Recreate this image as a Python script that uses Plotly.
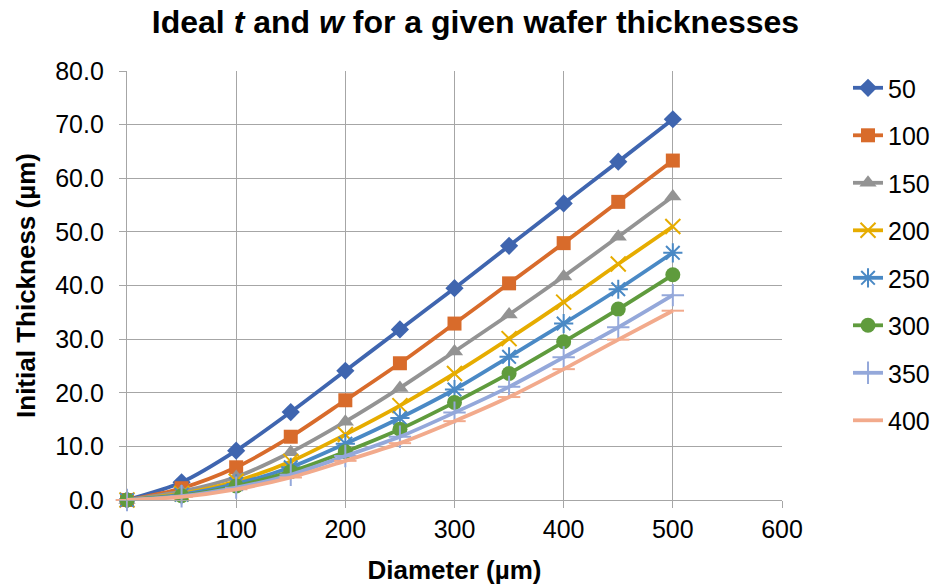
import plotly.graph_objects as go

# Diameter (µm) on the x axis
diameter = [0, 50, 100, 150, 200, 250, 300, 350, 400, 450, 500]

# Wafer thickness series (µm) and the initial thickness values for each
wafer = ["50", "100", "150", "200", "250", "300", "350", "400"]
t50 = [0.0, 3.3, 9.2, 16.4, 24.1, 31.8, 39.5, 47.4, 55.3, 63.1, 71.0]
t100 = [0.0, 2.2, 6.1, 11.8, 18.6, 25.5, 32.9, 40.4, 47.9, 55.6, 63.3]
t150 = [0.0, 1.6, 4.3, 8.9, 14.6, 20.9, 27.7, 34.6, 41.7, 49.1, 56.6]
t200 = [0.0, 1.2, 3.5, 7.2, 12.2, 17.6, 23.6, 30.1, 36.9, 44.0, 51.0]
t250 = [0.0, 1.0, 3.0, 6.1, 10.5, 15.3, 20.6, 26.7, 32.9, 39.3, 46.1]
t300 = [0.0, 0.8, 2.6, 5.3, 9.0, 13.2, 18.2, 23.6, 29.5, 35.6, 42.0]
t350 = [0.0, 0.7, 2.3, 4.7, 8.2, 11.8, 16.3, 21.1, 26.6, 32.2, 38.2]
t400 = [0.0, 0.6, 2.0, 4.2, 7.3, 10.6, 14.7, 19.2, 24.4, 29.9, 35.3]
values = [t50, t100, t150, t200, t250, t300, t350, t400]

x_ticks = [0, 100, 200, 300, 400, 500, 600]
y_ticks = [0, 10, 20, 30, 40, 50, 60, 70, 80]

colors = ["#3F65AF", "#D86B2B", "#939393", "#E6AC00",
          "#4A89C5", "#5F9B3D", "#94A8DA", "#F2AA8C"]
symbols = ["diamond", "square", "triangle-up", "x-thin",
           "asterisk", "circle", "cross-thin", "line-ew"]
sizes = [14, 14, 15, 15, 16, 15, 16, 16]
line_only = {"x-thin", "asterisk", "cross-thin", "line-ew"}

FONT = "Liberation Sans, Arial, sans-serif"

fig = go.Figure()
for name, ys, col, sym, sz in zip(wafer, values, colors, symbols, sizes):
    thin = sym in line_only
    fig.add_trace(go.Scatter(
        x=diameter, y=ys, name=name, mode="lines+markers",
        legendgroup=name, cliponaxis=False,
        line=dict(color=col, width=3.8, shape="spline", smoothing=0.8),
        marker=dict(symbol=sym, size=sz, color=col,
                    line=dict(color=col, width=2) if thin else dict(width=0)),
    ))

fig.update_layout(
    width=936, height=586,
    margin=dict(l=127, r=154, t=71, b=86, autoexpand=False),
    paper_bgcolor="white", plot_bgcolor="white",
    font=dict(family=FONT, color="black"),
    title=dict(
        text="<b>Ideal <i>t</i> and <i>w</i> for a given wafer thicknesses</b>",
        x=0.508, xanchor="center", y=0.963, yanchor="middle",
        font=dict(size=32, family=FONT, color="black"),
    ),
    legend=dict(
        xref="container", yref="container",
        x=0.906, xanchor="left", y=0.889, yanchor="top",
        font=dict(size=25, family=FONT, color="black"),
        tracegroupgap=12, bgcolor="rgba(0,0,0,0)",
        maxheight=560,
    ),
    showlegend=True,
)

fig.update_xaxes(
    range=[0, 600], tickvals=x_ticks, ticktext=[str(v) for v in x_ticks],
    automargin=False,
    showgrid=True, gridcolor="#A6A6A6", gridwidth=1.3,
    showline=True, linecolor="#A6A6A6", linewidth=1.3,
    ticks="outside", ticklen=7, tickcolor="#A6A6A6", tickwidth=1.3,
    tickfont=dict(size=25, family=FONT, color="black"),
    zeroline=False,
    title=dict(text="<b>Diameter (µm)</b>", standoff=18,
               font=dict(size=26, family=FONT, color="black")),
)
fig.update_yaxes(
    range=[0, 80], tickvals=y_ticks, tickformat=".1f",
    automargin=False,
    showgrid=True, gridcolor="#A6A6A6", gridwidth=1.3,
    showline=True, linecolor="#A6A6A6", linewidth=1.3,
    ticks="outside", ticklen=7, tickcolor="#A6A6A6", tickwidth=1.3,
    ticklabelstandoff=10,
    tickfont=dict(size=25, family=FONT, color="black"),
    zeroline=False,
    title=dict(text="<b>Initial Thickness (µm)</b>", standoff=12,
               font=dict(size=26, family=FONT, color="black")),
)

fig.write_html("out.html")
